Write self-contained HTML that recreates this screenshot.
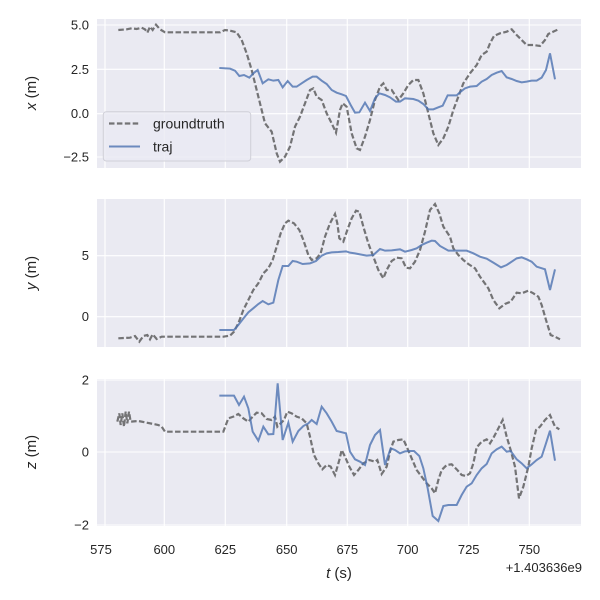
<!DOCTYPE html>
<html><head><meta charset="utf-8"><style>
html,body{margin:0;padding:0;background:#fff;}
svg{display:block;font-family:"Liberation Sans","DejaVu Sans",sans-serif;}
</style></head><body>
<svg width="600" height="600" viewBox="0 0 600 600" xmlns="http://www.w3.org/2000/svg">
<rect x="97" y="19" width="484" height="149" fill="#EAEAF2"/>
<rect x="97" y="199" width="484" height="148" fill="#EAEAF2"/>
<rect x="97" y="379" width="484" height="147" fill="#EAEAF2"/>
<g stroke="#fff" stroke-width="1.1">
<path d="M105 19V168M164.3 19V168M225.3 19V168M286.7 19V168M347.3 19V168M407.7 19V168M468.7 19V168M529.3 19V168"/>
<path d="M105 199V347M164.3 199V347M225.3 199V347M286.7 199V347M347.3 199V347M407.7 199V347M468.7 199V347M529.3 199V347"/>
<path d="M105 379V526M164.3 379V526M225.3 379V526M286.7 379V526M347.3 379V526M407.7 379V526M468.7 379V526M529.3 379V526"/>
<path d="M97 25H581M97 69.3H581M97 113.7H581M97 157H581"/>
<path d="M97 255.7H581M97 316.7H581"/>
<path d="M97 380H581M97 452H581M97 525H581"/>
</g>
<g transform="translate(90,10) scale(0.3333333)" fill="none">
<polyline vector-effect="non-scaling-stroke" stroke="#555" stroke-opacity="0.8" stroke-width="2.2" stroke-dasharray="5.5,2.4" points="85,60 110,58 125,55 140,57 155,53 165,58 172,68 180,50 188,60 198,44 210,58 225,67 390,67 405,60 420,62 440,67 455,90 470,130 485,180 500,240 515,300 525,340 545,365 560,430 570,455 585,440 600,410 615,350 630,320 645,280 660,240 670,235 680,260 695,270 710,310 725,340 738,368 750,300 758,280 770,290 785,370 800,415 810,420 825,380 840,330 855,270 870,230 880,220 890,240 905,240 915,255 925,270 940,250 955,225 970,210 985,210 1000,250 1015,310 1030,370 1045,405 1060,385 1075,350 1090,300 1105,260 1120,220 1140,190 1160,165 1175,135 1190,125 1200,100 1212,78 1230,70 1250,65 1265,58 1280,75 1295,90 1310,105 1330,105 1350,108 1365,90 1375,72 1390,65 1405,58"/>
<polyline vector-effect="non-scaling-stroke" stroke="#4c72b0" stroke-opacity="0.8" stroke-width="2" points="388,174 420,176 435,182 448,198 462,195 478,203 490,190 503,180 518,220 535,208 550,212 565,210 578,232 593,213 608,230 620,230 635,220 650,210 668,200 680,200 695,212 710,222 725,240 740,248 755,253 768,258 782,285 795,308 808,307 825,278 840,303 855,265 868,250 885,255 900,262 918,275 930,275 945,265 970,267 985,272 1000,282 1015,298 1030,298 1045,292 1058,287 1073,256 1100,256 1112,245 1125,235 1140,230 1160,228 1175,215 1190,207 1205,195 1220,188 1235,183 1250,202 1265,207 1280,213 1295,217 1310,215 1325,212 1340,212 1355,203 1368,180 1380,130 1395,208"/>
</g>
<g transform="translate(90,190) scale(0.3333333)" fill="none">
<polyline vector-effect="non-scaling-stroke" stroke="#555" stroke-opacity="0.8" stroke-width="2.2" stroke-dasharray="5.5,2.4" points="85,445 120,443 135,438 148,455 160,438 172,435 180,448 188,433 200,447 215,440 400,440 420,437 432,425 445,400 460,360 475,330 490,300 505,280 520,250 535,235 548,210 560,170 572,130 585,100 595,92 612,100 628,120 640,150 655,195 665,210 680,205 692,190 705,140 720,100 735,72 742,100 748,145 760,155 772,120 785,85 798,62 808,65 820,110 835,160 850,200 865,240 880,265 890,240 905,213 920,203 935,205 948,233 960,235 975,215 990,180 1005,125 1020,60 1035,42 1048,70 1060,110 1080,140 1090,175 1105,195 1120,210 1135,222 1155,235 1170,260 1195,295 1210,330 1228,355 1245,342 1262,335 1280,308 1295,310 1315,302 1330,310 1345,320 1355,345 1368,390 1382,435 1395,440 1410,448"/>
<polyline vector-effect="non-scaling-stroke" stroke="#4c72b0" stroke-opacity="0.8" stroke-width="2" points="388,420 432,420 445,405 458,388 475,367 492,353 505,342 518,333 535,343 550,338 565,270 578,228 595,228 608,213 620,215 638,222 660,220 678,213 695,197 710,190 725,187 745,186 768,184 780,188 795,190 810,193 830,197 850,195 870,177 885,182 905,181 930,178 945,185 965,180 980,175 995,165 1010,158 1025,152 1035,153 1050,168 1075,182 1095,182 1130,182 1150,190 1170,200 1190,206 1210,218 1233,232 1250,225 1265,215 1280,205 1295,202 1310,208 1325,215 1340,230 1365,238 1380,300 1395,238"/>
</g>
<g transform="translate(90,370) scale(0.3333333)" fill="none">
<polyline vector-effect="non-scaling-stroke" stroke="#555" stroke-opacity="0.8" stroke-width="2.2" stroke-dasharray="5.5,2.4" points="82,155 88,130 92,165 97,130 102,170 107,125 112,160 117,125 122,155 145,153 170,158 205,165 215,170 225,185 400,185 415,145 430,140 445,132 460,145 475,155 488,140 500,128 515,130 530,147 545,150 555,140 562,170 572,160 582,150 592,125 605,130 620,140 635,145 650,160 660,200 672,255 685,280 697,298 710,285 722,290 735,315 748,270 755,240 765,260 778,290 792,315 805,300 820,280 838,270 855,275 862,270 875,312 890,290 900,245 910,215 925,210 940,208 950,230 965,265 980,300 995,320 1010,340 1025,355 1035,370 1045,330 1055,300 1070,285 1085,283 1100,298 1115,315 1128,318 1140,310 1150,280 1160,232 1175,215 1190,208 1200,220 1212,200 1225,175 1238,150 1250,200 1262,240 1275,290 1287,385 1300,350 1315,290 1325,235 1338,180 1350,170 1365,150 1380,135 1395,170 1408,178"/>
<polyline vector-effect="non-scaling-stroke" stroke="#4c72b0" stroke-opacity="0.8" stroke-width="2" points="388,77 432,77 447,105 462,80 475,115 488,185 505,212 520,170 535,193 550,192 555,140 563,40 570,120 578,210 595,158 608,215 625,183 640,168 655,160 665,150 680,162 695,110 710,130 725,155 740,183 768,190 780,245 795,268 810,275 825,285 840,225 855,195 870,180 885,285 902,235 915,240 930,250 945,244 960,243 972,243 988,258 1000,295 1013,355 1028,438 1045,453 1060,408 1075,405 1100,405 1115,375 1130,350 1145,340 1160,315 1175,295 1190,282 1205,250 1220,238 1235,230 1250,245 1262,243 1280,268 1295,280 1310,295 1325,283 1340,270 1355,260 1368,220 1380,182 1395,272"/>
</g>
<rect x="103.3" y="111.7" width="147.4" height="49.3" rx="3" fill="#EAEAF2" fill-opacity="0.8" stroke="#d0d0d8" stroke-width="1"/>
<line x1="109" y1="123.5" x2="140" y2="123.5" stroke="#555" stroke-opacity="0.8" stroke-width="2.2" stroke-dasharray="5.5,2.4"/>
<line x1="109" y1="146.5" x2="140" y2="146.5" stroke="#4c72b0" stroke-opacity="0.8" stroke-width="2"/>
<g font-size="14" fill="#262626">
<text x="153" y="128.5">groundtruth</text>
<text x="153" y="151.5">traj</text>
</g>
<g font-size="13" fill="#262626" text-anchor="end">
<text x="89" y="29.5">5.0</text>
<text x="89" y="73.8">2.5</text>
<text x="89" y="118.2">0.0</text>
<text x="89" y="161.5">−2.5</text>
<text x="89" y="260.2">5</text>
<text x="89" y="321.2">0</text>
<text x="89" y="384.5">2</text>
<text x="89" y="456.5">0</text>
<text x="89" y="529.5">−2</text>
</g>
<g font-size="13" fill="#262626" text-anchor="middle">
<text x="101" y="554">575</text>
<text x="164.3" y="554">600</text>
<text x="225.3" y="554">625</text>
<text x="286.7" y="554">650</text>
<text x="347.3" y="554">675</text>
<text x="407.7" y="554">700</text>
<text x="468.7" y="554">725</text>
<text x="529.3" y="554">750</text>
</g>
<text x="582" y="572" font-size="13" fill="#262626" text-anchor="end">+1.403636e9</text>
<text x="339" y="578" font-size="15" fill="#262626" text-anchor="middle"><tspan font-style="italic">t</tspan> (s)</text>
<g font-size="15" fill="#262626" text-anchor="middle">
<text transform="translate(36,93) rotate(-90)"><tspan font-style="italic">x</tspan> (m)</text>
<text transform="translate(36,273) rotate(-90)"><tspan font-style="italic">y</tspan> (m)</text>
<text transform="translate(36,452) rotate(-90)"><tspan font-style="italic">z</tspan> (m)</text>
</g>
</svg>
</body></html>
